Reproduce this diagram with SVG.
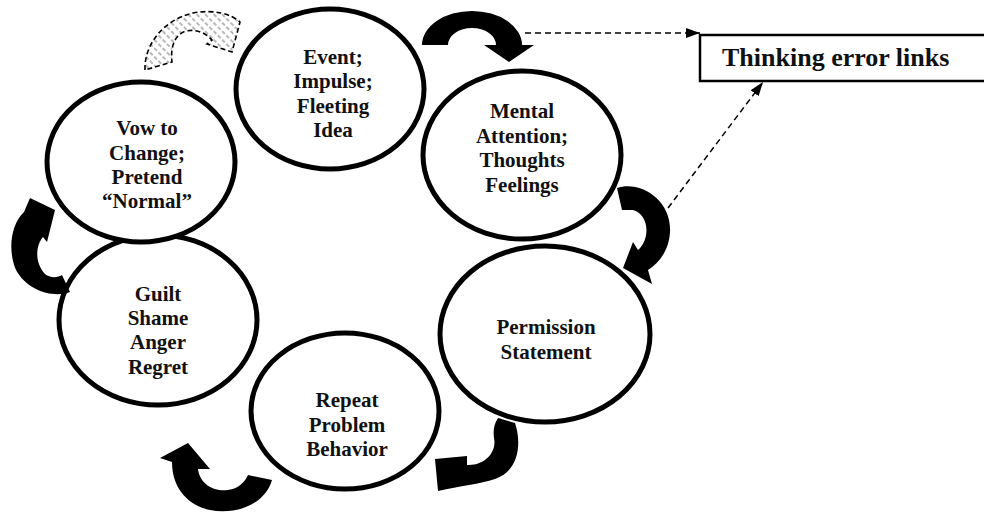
<svg xmlns="http://www.w3.org/2000/svg" width="984" height="512" viewBox="0 0 984 512">
<defs>
<style>
.node ellipse{fill:#fff;stroke:#000;stroke-width:5}
.node text,.box text{font-family:"Liberation Serif","Times New Roman",serif;font-weight:bold;font-size:21px;text-anchor:middle;fill:#111}
.box rect{fill:#fff;stroke:#000;stroke-width:2.5}
.box text{font-size:26px;text-anchor:start}
.carrow{fill:#000}
.hatched{fill:url(#hatch);stroke:#000;stroke-width:1.6;stroke-dasharray:5 3}
.dash{fill:none;stroke:#000;stroke-width:1.5;stroke-dasharray:6 4;marker-end:url(#ah)}
</style>
<pattern id="hatch" width="6" height="6" patternUnits="userSpaceOnUse" patternTransform="rotate(-45)">
<rect width="6" height="6" fill="#fff"/>
<line x1="3" y1="0" x2="3" y2="6" stroke="#a8a8a8" stroke-width="1.6" stroke-dasharray="3 2"/>
</pattern>
<marker id="ah" markerUnits="userSpaceOnUse" markerWidth="15" markerHeight="11" refX="14" refY="5" orient="auto">
<path d="M0,0 L14,5 L0,10 Z" fill="#000"/>
</marker>
</defs>
<rect width="984" height="512" fill="#fff"/>

<g id="node-event" class="node">
<ellipse cx="330" cy="89" rx="94" ry="80"/>
<text x="333" y="64">Event;</text>
<text x="333" y="88">Impulse;</text>
<text x="333" y="113">Fleeting</text>
<text x="333" y="137">Idea</text>
</g>
<g id="node-mental" class="node">
<ellipse cx="522" cy="155" rx="99" ry="84"/>
<text x="522" y="118">Mental</text>
<text x="522" y="143">Attention;</text>
<text x="522" y="167">Thoughts</text>
<text x="522" y="192">Feelings</text>
</g>
<g id="node-permission" class="node">
<ellipse cx="545" cy="334" rx="105" ry="88"/>
<text x="546" y="334">Permission</text>
<text x="546" y="359">Statement</text>
</g>
<g id="node-repeat" class="node">
<ellipse cx="345" cy="411" rx="94" ry="78"/>
<text x="347" y="407">Repeat</text>
<text x="347" y="432">Problem</text>
<text x="347" y="456">Behavior</text>
</g>
<g id="node-guilt" class="node">
<ellipse cx="158" cy="320" rx="99" ry="85"/>
<text x="158" y="301">Guilt</text>
<text x="158" y="325">Shame</text>
<text x="158" y="349">Anger</text>
<text x="158" y="374">Regret</text>
</g>
<g id="node-vow" class="node">
<ellipse cx="141" cy="162" rx="94" ry="80"/>
<text x="147" y="135">Vow to</text>
<text x="147" y="160">Change;</text>
<text x="147" y="184">Pretend</text>
<text x="147" y="208">“Normal”</text>
</g>

<g id="thinking-error-links" class="box">
<rect x="700" y="35" width="300" height="46"/>
<text x="722" y="66">Thinking error links</text>
</g>

<g id="connectors">
<path class="hatched" d="M145,70 C144,45 163,20 193,13 C214,9 231,14 240,22 L232,52 L207,44 L212,40 C205,32 195,29 186,31 C176,34 170,45 172,62 Z"/>
<path class="carrow" d="M422,45 A50,34 0 0 1 522,45 L534,45 L509,62 L484,45 L496,45 A24,17 0 0 0 448,45 Z"/>
<path class="carrow" d="M617,188 C640,180 672,200 670,232 C669,250 660,262 648,270 L652,284 L623,268 L633,242 L638,250 C650,240 650,215 633,210 L622,210 Z"/>
<path class="carrow" d="M498,418 L515,423 C521,440 521,470 495,479 C480,484 460,486 438,491 L435,459 L467,456 L467,465 C485,466 497,452 494,438 C493,430 494,424 498,418 Z"/>
<path class="carrow" d="M248,475 L272,480 C265,505 235,515 210,510 C190,506 172,490 172,462 L160,458 L188,443 L210,469 L198,469 C200,485 215,492 228,490 C238,489 245,482 248,475 Z"/>
<path class="carrow" d="M62,275 L70,292 C55,298 28,292 16,270 C8,252 10,225 24,212 L30,198 L55,210 L47,242 L43,237 C36,245 34,262 45,274 C50,278 57,278 62,275 Z"/>
<path class="dash" d="M525,33 L700,33"/>
<path class="dash" d="M668,208 L763,82"/>
</g>
</svg>
